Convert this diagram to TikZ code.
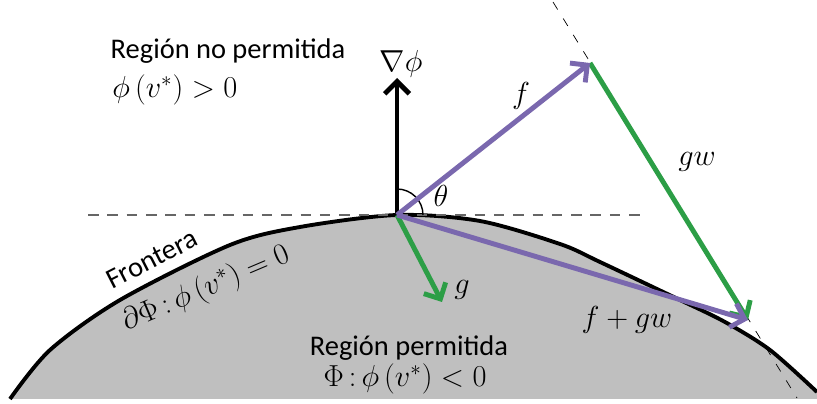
\documentclass[tikz,border=0pt]{standalone}
\usepackage{amsmath,amssymb}
\usepackage{fontspec}
\setmainfont{Carlito}
\usetikzlibrary{arrows.meta, positioning, calc}

\definecolor{regiongray}{RGB}{191,191,191}
\definecolor{fpurple}{RGB}{122,104,174}
\definecolor{ggreen}{RGB}{44,158,70}

\tikzset{
  txt/.style={font=\fontsize{16.2}{19}\selectfont, inner sep=0pt},
  mth/.style={font=\fontsize{18}{21}\selectfont, inner sep=0pt},
  vec/.style={line width=2.8pt, -{Straight Barb[length=7pt,width=14pt]}},
}

\begin{document}
\begin{tikzpicture}[x=0.02cm, y=-0.02cm]
          \useasboundingbox (0,0) rectangle (817,404);
          % region permitida
          \fill[regiongray] plot[smooth] coordinates {(10,399) (50,350) (120,300) (230,245) (300,227) (397,215) (480,221) (560,244) (600,262) (680,300) (725,322) (770,350) (817,392)} -- (817,399) -- cycle;
          \draw[line width=2.2pt] plot[smooth] coordinates {(10,399) (50,350) (120,300) (230,245) (300,227) (397,215) (480,221) (560,244) (600,262) (680,300) (725,322) (770,350) (817,392)};
          % points
          \coordinate (o) at (397,215);
          \coordinate (gradtip) at (397,78);
          \coordinate (ftip) at (590,63);
          \coordinate (gwtip) at (748,320);
          \coordinate (gtip) at (442,302);
          \coordinate (hl) at (88,215);
          \coordinate (hr) at (640,215);
          \coordinate (tl) at (553,2);
          \coordinate (tr) at (797,398);
          % dashed lines
          \draw[dashed, gray!80!black, thick, dash pattern=on 6pt off 5pt] (hl) -- (hr);
          \draw[dashed, thin, dash pattern=on 5pt off 6pt] (tl) -- (tr);
          % angle
          \draw[thick] (o) ++(0,-26) arc[start angle=-90, end angle=0, radius=26];
          \node[mth] (theta) at (441,196) {$\theta$};
          % vectors
          \draw[vec] (o) -- (gradtip);
          \draw[vec, ggreen] (ftip) -- (gwtip);
          \draw[vec, ggreen] (o) -- (gtip);
          \draw[vec, fpurple] (o) -- (ftip);
          \draw[vec, fpurple] (o) -- (gwtip);
          % labels
          \node[mth] (grad) at (401,64) {$\nabla\phi$};
          \node[mth] (flab) at (521,96) {$f$};
          \node[mth] (gwlab) at (697,162) {$gw$};
          \node[mth] (glab) at (462,290) {$g$};
          \node[mth] (fgwlab) at (627,320) {$f+gw$};
          \node[txt] (noperm) at (228,51) {Región no permitida};
          \node[mth, anchor=west] (noperm2) at (112,90) {$\phi\,(v^{*})>0$};
          \node[txt, rotate=27] (front) at (152,259) {Frontera};
          \node[mth, rotate=23] (front2) at (206,289) {$\partial\Phi{\,:\,}\phi\,(v^{*})=0$};
          \node[txt] (perm) at (409,348) {Región permitida};
          \node[mth] (perm2) at (405,379) {$\Phi{\,:\,}\phi\,(v^{*})<0$};
        \end{tikzpicture}
\end{document}
